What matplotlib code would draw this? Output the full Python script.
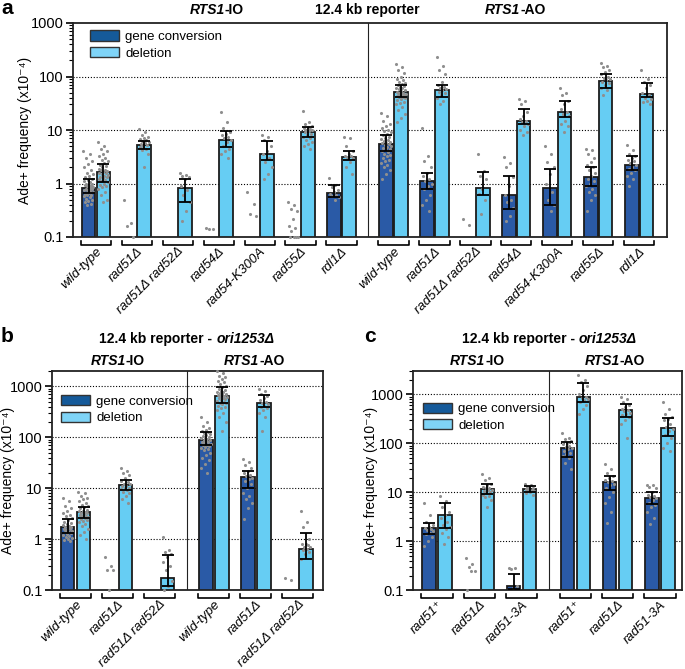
import numpy as np
import matplotlib
matplotlib.use('Agg')
import matplotlib.pyplot as plt
from matplotlib.patches import Patch
from matplotlib import transforms
from matplotlib.offsetbox import TextArea, HPacker, AnnotationBbox
from matplotlib.ticker import LogLocator, NullFormatter, FuncFormatter, FixedLocator

FAM = ['Liberation Sans', 'DejaVu Sans']
plt.rcParams['font.family'] = FAM
nan = np.nan

# ---------------- Panel a data ----------------
a_labels = ['wild-type', 'rad51Δ', 'rad51Δ rad52Δ', 'rad54Δ', 'rad54-K300A', 'rad55Δ', 'rdl1Δ'] * 2
a_gc = [0.83, nan, nan, nan, nan, nan, 0.66, 5.5, 1.09, nan, 0.60, 0.83, 1.31, 2.26]
a_gc_lo = [0.66, nan, nan, nan, nan, nan, 0.55, 4.1, 0.8, nan, 0.33, 0.4, 0.9, 1.8]
a_gc_hi = [1.22, nan, nan, nan, nan, nan, 0.94, 8.1, 1.56, nan, 1.41, 1.88, 2.02, 3.2]
a_del = [1.63, 5.35, 0.82, 6.6, 3.6, 9.1, 3.1, 51, 55, 0.83, 15, 22, 84, 47]
a_del_lo = [1.06, 4.45, 0.45, 4.76, 2.77, 7.3, 2.77, 41, 41, 0.6, 12.7, 17.3, 62, 41]
a_del_hi = [2.27, 6.35, 1.22, 9.4, 6.1, 11.3, 4.0, 70, 68, 1.63, 24.8, 34.4, 112, 76]

a_gc_pts = [
    [4.1, 3.5, 3.0, 2.6, 2.3, 2.0, 1.8, 1.6, 1.5, 1.4, 1.3, 1.2, 1.15, 1.1, 1.05, 1.0, 0.98, 0.95, 0.92, 0.9,
     0.88, 0.85, 0.83, 0.8, 0.78, 0.76, 0.74, 0.72, 0.7, 0.68, 0.66, 0.64, 0.62, 0.6, 0.58, 0.55, 0.52, 0.5,
     0.48, 0.45, 0.42, 0.4],
    [0.5, 0.18, 0.16, 0.1],
    [],
    [0.15, 0.14, 0.14],
    [0.68, 0.42, 0.27, 0.25],
    [0.45, 0.4, 0.33, 0.3, 0.22, 0.16, 0.15, 0.13, 0.1, 0.1, 0.1, 0.1],
    [1.25, 0.95, 0.85, 0.75, 0.7, 0.65, 0.6, 0.58, 0.55, 0.5],
    [21, 18, 15, 13, 12, 11, 10, 9.5, 9, 8.5, 8, 7.5, 7, 6.8, 6.5, 6.2, 6, 5.8, 5.6, 5.4, 5.2, 5, 4.8, 4.6,
     4.4, 4.2, 4, 3.8, 3.6, 3.4, 3.2, 3, 2.8, 2.6, 2.4, 2.2, 2, 1.8, 1.5, 1.2],
    [10.8, 3.2, 2.6, 2.0, 1.6, 1.4, 1.2, 1.1, 1.0, 0.9, 0.8, 0.6, 0.5, 0.4, 0.3],
    [0.22, 0.17],
    [3.1, 2.4, 2.0, 1.3, 0.9, 0.6, 0.5, 0.45, 0.35, 0.25, 0.2],
    [5, 3.5, 2.5, 2.0, 1.5, 1.0, 0.7, 0.5, 0.4, 0.3],
    [4.4, 4.2, 3.5, 3, 2.5, 2.2, 2, 1.8, 1.6, 1.4, 1.2, 1.1, 1.0, 0.9, 0.8, 0.7, 0.6, 0.5, 0.3],
    [5.3, 4.3, 3.6, 3.2, 3, 2.8, 2.6, 2.4, 2.2, 2.0, 1.9, 1.8, 1.6, 1.4, 1.2, 0.9],
]
a_del_pts = [
    [6.0, 5.0, 4.5, 4.0, 3.6, 3.3, 3.0, 2.8, 2.6, 2.4, 2.2, 2.1, 2.0, 1.9, 1.8, 1.75, 1.7, 1.65, 1.6, 1.55,
     1.5, 1.45, 1.4, 1.35, 1.3, 1.25, 1.2, 1.15, 1.1, 1.05, 1.0, 0.95, 0.9, 0.85, 0.8, 0.7, 0.6, 0.5, 0.45],
    [10.5, 9, 8, 7.5, 7, 6.8, 6.5, 6.2, 6, 5.8, 5.5, 5.3, 5, 4.8, 4.5, 4.2, 3.5, 2.0],
    [1.6, 1.45, 1.4, 1.3, 1.2, 0.9, 0.75, 0.6, 0.45, 0.3, 0.2],
    [22, 14, 11, 9, 8.5, 8, 7.5, 7, 6.5, 6, 5, 4.5, 4, 3.5, 3],
    [8, 7.5, 6.5, 5, 4, 3.5, 3, 2.5, 2, 1.5, 1.2],
    [23, 14, 13, 12, 11.5, 11, 10.5, 10, 10, 9.5, 9, 8.5, 8, 7.5, 7, 6.5, 6, 5.5, 5, 4.5],
    [7.5, 7, 5, 4, 3.5, 3.3, 3.2, 3.1, 3, 2.5, 2, 1.5],
    [170, 150, 130, 115, 100, 90, 85, 80, 75, 72, 70, 67, 65, 62, 60, 58, 56, 54, 52, 50, 49, 48, 47, 46,
     45, 44, 43, 42, 41, 40, 38, 36, 34, 32, 30, 27, 24, 20, 17, 14],
    [230, 160, 130, 110, 80, 70, 65, 60, 58, 55, 52, 50, 45, 40, 35, 30],
    [3.6, 1.7, 1.4, 1.2, 0.8, 0.65, 0.5, 0.27],
    [38, 35, 30, 22, 18, 16, 15, 14, 13, 12, 10, 9, 8],
    [60, 50, 45, 35, 30, 25, 22, 20, 18, 15, 13, 12, 9],
    [180, 160, 150, 130, 120, 110, 100, 95, 90, 85, 80, 75, 70, 60, 55, 45],
    [130, 90, 80, 70, 60, 50, 45, 40, 38, 35, 33, 30],
]

# ---------------- Panel b data ----------------
b_labels = ['wild-type', 'rad51Δ', 'rad51Δ rad52Δ'] * 2
b_gc = [1.73, nan, nan, 89, 16.4, nan]
b_gc_lo = [1.3, nan, nan, 70, 10, nan]
b_gc_hi = [2.5, nan, nan, 124, 22, nan]
b_del = [3.4, 11.4, 0.17, 636, 480, 0.65]
b_del_lo = [2.6, 9.2, 0.12, 480, 390, 0.4]
b_del_hi = [4.3, 14.5, 0.48, 970, 665, 1.3]
b_gc_pts = [
    [6.3, 5.5, 4.5, 4, 3.5, 3.2, 3, 2.8, 2.6, 2.4, 2.2, 2.1, 2, 1.9, 1.8, 1.75, 1.7, 1.65, 1.6, 1.55, 1.5,
     1.45, 1.4, 1.35, 1.3, 1.25, 1.2, 1.15, 1.1, 1.05, 1.0, 0.95, 0.9],
    [0.45, 0.3, 0.25, 0.25, 0.1],
    [],
    [250, 200, 170, 150, 140, 130, 125, 120, 115, 110, 105, 100, 97, 95, 92, 90, 88, 85, 82, 80, 77, 75, 72,
     70, 67, 65, 62, 60, 55, 50, 45, 40, 35, 30, 25, 20],
    [38, 32, 28, 25, 22, 20, 18, 17, 16, 15, 14, 12, 10, 8, 7, 6, 5, 4, 2.5],
    [0.17, 0.16],
]
b_del_pts = [
    [8.5, 8, 7, 6.5, 6, 5.5, 5, 4.7, 4.4, 4.2, 4, 3.8, 3.6, 3.5, 3.4, 3.3, 3.2, 3.1, 3, 2.9, 2.8, 2.7, 2.6,
     2.5, 2.4, 2.3, 2.2, 2, 1.8, 1.6, 1.4, 1.2, 1.0],
    [25, 22, 20, 18, 16, 14, 13, 12, 12, 11, 11, 10, 10, 9.5, 9, 8.5, 8, 7, 6, 5],
    [1.1, 0.6, 0.55, 0.5, 0.45, 0.35, 0.3, 0.25, 0.15, 0.12, 0.1],
    [2000, 1800, 1600, 1500, 1400, 1300, 1200, 1100, 1000, 950, 900, 850, 800, 780, 760, 740, 720, 700, 680,
     660, 640, 620, 600, 580, 560, 540, 520, 500, 480, 460, 440, 420, 400, 380, 350, 300, 250, 200, 130],
    [900, 800, 700, 650, 600, 550, 500, 480, 450, 420, 400, 380, 350, 300, 250, 130],
    [3.5, 2.2, 1.7, 1.0, 0.8, 0.8, 0.75, 0.7, 0.7, 0.65, 0.6, 0.55, 0.5, 0.4],
]

# ---------------- Panel c data ----------------
c_labels = ['rad51⁺', 'rad51Δ', 'rad51-3A'] * 2
c_gc = [1.84, nan, 0.12, 79, 16.4, 7.8]
c_gc_lo = [1.4, nan, 0.105, 53, 11, 5.7]
c_gc_hi = [2.4, nan, 0.22, 108, 22, 10]
c_del = [3.43, 11.7, 11.5, 870, 480, 210]
c_del_lo = [1.9, 9.3, 10, 706, 350, 140]
c_del_hi = [6.2, 14.8, 13.5, 1730, 640, 323]
c_gc_pts = [
    [6, 3.5, 2.5, 2.2, 2.0, 1.9, 1.8, 1.7, 1.6, 1.5, 1.4, 1.2, 1.0, 0.8],
    [0.45, 0.35, 0.3, 0.25, 0.25, 0.1],
    [0.28, 0.28, 0.27, 0.12, 0.11],
    [160, 130, 120, 110, 100, 95, 90, 85, 80, 75, 70, 65, 60, 55, 50, 40, 30],
    [38, 30, 25, 22, 20, 18, 17, 16, 15, 14, 12, 10, 8, 6, 4, 2.4],
    [14, 14, 13, 12, 10, 9, 8.5, 8, 7.5, 7, 6, 5.5, 5, 4, 3, 2.3],
]
c_del_pts = [
    [8.5, 6.5, 5, 4, 3.5, 3, 2.5, 2.2, 2, 1.8, 1.5, 1.2, 0.9],
    [24, 20, 18, 15, 14, 13, 12, 12, 11, 11, 10.5, 10, 9.5, 9, 8.5, 8, 7, 5],
    [15, 14, 13, 12.5, 12, 11.5, 11, 11, 10.5, 10, 9.5, 9],
    [2500, 2000, 1800, 1500, 1200, 1000, 900, 850, 800, 750, 700, 600, 500, 400],
    [900, 800, 700, 600, 550, 500, 480, 450, 420, 400, 380, 350, 300, 250, 130],
    [700, 500, 400, 350, 320, 300, 250, 220, 200, 180, 150, 130, 100, 80, 70],
]

GC_COL = '#2a5aa6'
DEL_COL = '#66cdf3'
LEG_GC = '#155a9a'
LEG_DEL = '#7fd4f7'
EDGE = '#1c1c1c'
PT_COL = '#8f8f8f'


def jitter(n, spread):
    k = np.arange(n)
    return ((k * 0.6180339887) % 1.0 - 0.5) * spread


def draw_panel(ax, xpos, labels, gc, gc_lo, gc_hi, de, de_lo, de_hi, gc_pts, de_pts,
               off, w, xlim, ylim, divider, ylabel_x, axh_px):
    base = 0.03
    for i, x in enumerate(xpos):
        for (val, lo, hi, pts, sx, col) in [
            (gc[i], gc_lo[i], gc_hi[i], gc_pts[i], x - off, GC_COL),
            (de[i], de_lo[i], de_hi[i], de_pts[i], x + off, DEL_COL)]:
            if not np.isnan(val):
                ax.bar(sx, val - base, bottom=base, width=w, color=col, edgecolor=EDGE,
                       linewidth=1.3, zorder=2)
            if len(pts):
                ax.scatter(sx + jitter(len(pts), w * 0.75), pts, s=5, color=PT_COL,
                           linewidths=0, zorder=3, clip_on=False)
            if not np.isnan(val):
                ax.errorbar(sx, val, yerr=[[val - lo], [hi - val]], fmt='none', ecolor='black',
                            elinewidth=1.3, capsize=4, capthick=1.3, zorder=4)
    ax.set_yscale('log')
    ax.set_xlim(*xlim)
    ax.set_ylim(*ylim)
    ax.yaxis.set_major_locator(FixedLocator([0.1, 1, 10, 100, 1000]))
    ax.yaxis.set_major_formatter(FuncFormatter(lambda v, p: '%g' % v))
    ax.yaxis.set_minor_locator(LogLocator(base=10, subs=np.arange(2, 10)))
    ax.yaxis.set_minor_formatter(NullFormatter())
    ax.tick_params(axis='y', which='major', length=5, width=1.2, labelsize=10.5, pad=2)
    ax.tick_params(axis='y', which='minor', length=3, width=0.8)
    ax.set_axisbelow(True)
    for yv in [1, 10, 100, 1000]:
        if yv < ylim[1] * 0.99:
            ax.axhline(yv, color='black', lw=0.8, ls=(0, (1, 1.6)), zorder=1)
    for s in ax.spines.values():
        s.set_linewidth(1.3)
        s.set_color('#222222')
    ax.axvline(divider, color='#222222', lw=0.8, zorder=1)
    ax.set_xticks(xpos)
    ax.set_xticklabels(labels, rotation=45, ha='right', rotation_mode='anchor',
                       fontstyle='italic', fontsize=9.5)
    ax.tick_params(axis='x', length=0, pad=6)
    trans = transforms.blended_transform_factory(ax.transData, ax.transAxes)
    ytop = -4.0 / axh_px
    ybot = -7.5 / axh_px
    for x in xpos:
        ax.plot([x - 0.37, x - 0.37, x + 0.37, x + 0.37], [ytop, ybot, ybot, ytop],
                color='black', lw=1.2, transform=trans, clip_on=False)
    ax.set_ylabel('Ade+ frequency (x10⁻⁴)', fontsize=10)
    ax.yaxis.set_label_coords(ylabel_x, 0.5)


def mixed_title(ax, x, y, parts, size=10):
    areas = [TextArea(t, textprops=dict(fontsize=size, fontweight='bold', fontstyle=st, family=FAM))
             for t, st in parts]
    box = HPacker(children=areas, align='baseline', pad=0, sep=0)
    tr = transforms.blended_transform_factory(ax.transData, ax.transAxes)
    ab = AnnotationBbox(box, (x, y), xycoords=tr, frameon=False, box_alignment=(0.5, 0.5),
                        pad=0, annotation_clip=False)
    ax.add_artist(ab)


def add_legend(ax, x, y):
    handles = [Patch(facecolor=LEG_GC, edgecolor='#333333', linewidth=1.0),
               Patch(facecolor=LEG_DEL, edgecolor='#333333', linewidth=1.0)]
    ax.legend(handles, ['gene conversion', 'deletion'], loc='upper left', bbox_to_anchor=(x, y),
              frameon=False, fontsize=9.5, handlelength=2.2, handleheight=0.8, handletextpad=0.5,
              labelspacing=0.3, borderpad=0, borderaxespad=0)


W, H = 685, 669
fig = plt.figure(figsize=(W / 100, H / 100), dpi=100)

# Panel a
axa = fig.add_axes([73 / W, 1 - 237 / H, 594 / W, 214 / H])
xa = [0, 1, 2, 3, 4, 5, 6, 7.27, 8.27, 9.27, 10.27, 11.27, 12.27, 13.27]
draw_panel(axa, xa, a_labels, a_gc, a_gc_lo, a_gc_hi, a_del, a_del_lo, a_del_hi, a_gc_pts, a_del_pts,
           0.18, 0.33, (-0.56, 13.95), (0.1, 1000), 6.635, -0.069, 214)
add_legend(axa, 0.028, 0.965)
mixed_title(axa, 2.95, 1.06, [('RTS1', 'italic'), ('-IO', 'normal')])
mixed_title(axa, 6.635, 1.06, [('12.4 kb reporter', 'normal')])
mixed_title(axa, 10.24, 1.06, [('RTS1', 'italic'), ('-AO', 'normal')])

# Panel b
axb = fig.add_axes([52 / W, 1 - 590 / H, 270.7 / W, 219 / H])
xb = [0, 1, 2, 3.29, 4.29, 5.29]
draw_panel(axb, xb, b_labels, b_gc, b_gc_lo, b_gc_hi, b_del, b_del_lo, b_del_hi, b_gc_pts, b_del_pts,
           0.19, 0.32, (-0.56, 5.88), (0.1, 2000), 2.645, -0.135, 219)
add_legend(axb, 0.032, 0.89)
mixed_title(axb, 2.645, 1.146, [('12.4 kb reporter - ', 'normal'), ('ori1253Δ', 'italic')])
mixed_title(axb, 1.0, 1.046, [('RTS1', 'italic'), ('-IO', 'normal')])
mixed_title(axb, 4.25, 1.046, [('RTS1', 'italic'), ('-AO', 'normal')])

# Panel c
axc = fig.add_axes([413 / W, 1 - 590.3 / H, 269 / W, 219.3 / H])
xc = [0, 1, 2, 3.27, 4.27, 5.27]
draw_panel(axc, xc, c_labels, c_gc, c_gc_lo, c_gc_hi, c_del, c_del_lo, c_del_hi, c_gc_pts, c_del_pts,
           0.19, 0.32, (-0.567, 5.79), (0.1, 3000), 2.65, -0.13, 219.3)
add_legend(axc, 0.036, 0.856)
mixed_title(axc, 2.65, 1.146, [('12.4 kb reporter - ', 'normal'), ('ori1253Δ', 'italic')])
mixed_title(axc, 0.95, 1.046, [('RTS1', 'italic'), ('-IO', 'normal')])
mixed_title(axc, 4.2, 1.046, [('RTS1', 'italic'), ('-AO', 'normal')])

# Panel letters
fig.text(7 / W, 1 - 9 / H, 'a', fontsize=15, fontweight='bold', ha='center', va='center')
fig.text(7 / W, 1 - 336 / H, 'b', fontsize=15, fontweight='bold', ha='center', va='center')
fig.text(370 / W, 1 - 337 / H, 'c', fontsize=15, fontweight='bold', ha='center', va='center')

fig.savefig('out.png', dpi=100)
